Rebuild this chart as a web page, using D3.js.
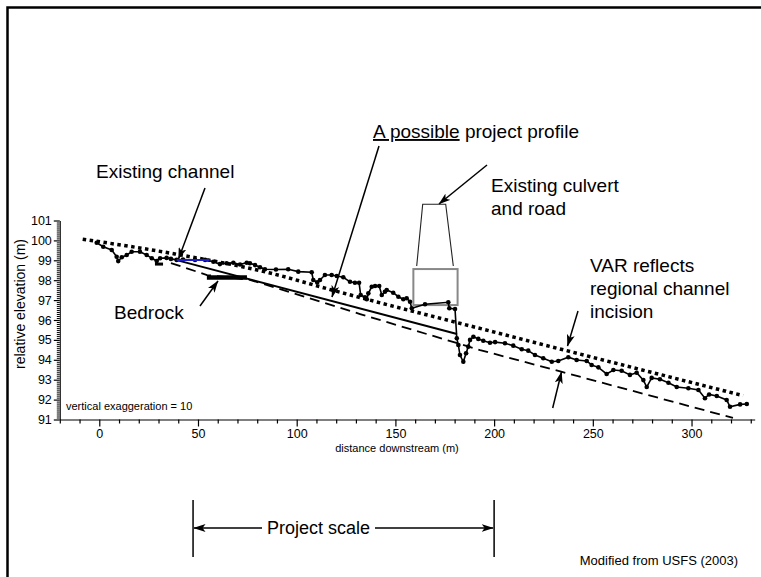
<!DOCTYPE html>
<html><head><meta charset="utf-8">
<script src="https://cdn.jsdelivr.net/npm/d3@7"></script>
<style>
html,body{margin:0;padding:0;background:#fff;}
svg{display:block;font-family:Arial,"Liberation Sans",sans-serif;}
</style></head>
<body>
<svg id="c" width="761" height="577"></svg>
<script>
// ---- data (distance downstream m, relative elevation m) ----
const profileDist = [-1.3,2.0,6.3,8.8,9.6,11.4,13.9,16.4,20.6,24.0,26.6,29.1,30.8,34.1,36.3,39.2,42.4,48.5,53.6,57.8,61.1,64.5,67.9,71.3,74.7,76.3,78.9,81.4,83.9,89.5,95.7,100.8,107.6,108.4,110.4,111.8,114.3,117.7,120.3,123.6,127.0,129.5,131.6,132.4,134.6,135.5,136.3,138.0,139.7,141.8,143.1,144.7,145.6,148.9,151.5,154.0,155.7,157.4,158.3,165.0,176.8,177.3,180.2,181.1,181.9,182.7,184.4,185.8,186.9,187.8,189.5,192.0,194.5,197.9,200.5,205.5,209.7,214.0,217.3,220.7,224.9,229.2,232.5,237.6,241.8,246.9,249.4,252.8,257.0,260.4,264.6,268.8,272.2,275.6,277.3,279.8,284.0,288.3,292.5,298.4,303.5,306.8,308.9,312.8,317.8,319.5,324.6,328.0];
const profileElev = [99.88,99.68,99.52,99.18,98.96,99.15,99.27,99.43,99.43,99.27,99.10,98.96,99.10,99.12,99.07,99.02,99.04,99.02,99.02,98.93,98.81,98.85,98.88,98.79,98.88,98.85,98.76,98.65,98.55,98.54,98.55,98.43,98.40,98.01,97.89,98.01,98.26,98.26,98.21,98.15,97.92,97.87,97.87,97.26,97.14,97.04,97.34,97.67,97.71,97.71,97.26,97.42,97.51,97.37,97.17,97.04,97.09,96.92,96.59,96.79,96.89,96.59,96.55,95.08,94.74,94.24,93.90,94.33,94.66,95.00,95.16,95.05,94.96,94.86,94.89,94.83,94.71,94.53,94.46,94.24,94.08,93.90,93.94,94.13,93.99,93.94,93.74,93.62,93.29,93.49,93.45,93.24,93.35,92.98,92.63,93.09,93.02,92.85,92.63,92.57,92.48,92.07,92.26,92.18,91.98,91.64,91.76,91.78];

// upper VAR (dotted)
const varUpperDist = [-8.4,38.3,86.5,117.7,202.9,326.1];
const varUpperElev = [100.06,99.32,98.36,97.51,95.32,92.20];
// lower VAR (dashed)
const varLowerDist = [36.3,54.6,76.3,132.1,192.9,234.4,321.0];
const varLowerElev = [98.86,98.26,98.02,96.30,94.49,93.39,91.08];
// possible project profile
const projectDist = [39.2,181.2];
const projectElev = [99.01,95.30];
// existing channel segment (blue)
const channelDist = [39.2,55.9];
const channelElev = [99.01,99.01];
// bedrock outcrops
const bedrockDist = [[28.2,32.3],[54.5,74.8]];
const bedrockElev = [98.81,98.14];
// culvert box
const culvertDist = [159.1,181.5];
const culvertElev = [96.75,98.56];
// project scale extent
const projectScale = [47.5,200];

// ticks
const xMajorTicks = [0,50,100,150,200,250,300];
const yMajorTicks = [91,92,93,94,95,96,97,98,99,100,101];

// ---- drawing ----
const svg = d3.select("#c");
const x = d3.scaleLinear().domain([-20,332]).range([59.8,754.7]);
const y = d3.scaleLinear().domain([91,101]).range([419.5,220.5]);

const defs = svg.append("defs");
defs.append("marker").attr("id","ah").attr("viewBox","0 0 12 8")
  .attr("refX",11.5).attr("refY",4).attr("markerWidth",12).attr("markerHeight",8)
  .attr("markerUnits","userSpaceOnUse").attr("orient","auto")
  .append("path").attr("d","M0,0 L12,4 L0,8 L3,4 Z").attr("fill","#000");

// frame
svg.append("path").attr("d","M7.5,577 V7.5 H761").attr("fill","none").attr("stroke","#000").attr("stroke-width",2.5);

// axes
const xMinor = d3.range(-20,331,10).filter(v=>!xMajorTicks.includes(v));
svg.append("g").attr("transform","translate(0,419.5)")
  .call(d3.axisBottom(x).tickValues(xMinor).tickSize(4).tickSizeOuter(0).tickFormat(""))
  .call(g=>g.selectAll("line,path").attr("stroke","#000").attr("stroke-width",1.2));
svg.append("g").attr("transform","translate(0,419.5)")
  .call(d3.axisBottom(x).tickValues(xMajorTicks).tickSize(7).tickSizeOuter(0).tickPadding(3))
  .call(g=>g.select(".domain").remove())
  .call(g=>g.selectAll("line").attr("stroke","#000").attr("stroke-width",1.2))
  .call(g=>g.selectAll("text").attr("font-size",12.5).attr("font-family","Arial, Liberation Sans").attr("fill","#000"));

const yMinor = d3.range(910,1011,1).map(v=>v/10).filter(v=>Math.abs(v-Math.round(v))>1e-6);
svg.append("g").attr("transform","translate(59.8,0)")
  .call(d3.axisLeft(y).tickValues(yMinor).tickSize(3).tickSizeOuter(0).tickFormat(""))
  .call(g=>g.selectAll("line,path").attr("stroke","#000").attr("stroke-width",1));
svg.append("g").attr("transform","translate(59.8,0)")
  .call(d3.axisLeft(y).tickValues(yMajorTicks).tickSize(6).tickSizeOuter(0).tickPadding(2))
  .call(g=>g.select(".domain").remove())
  .call(g=>g.selectAll("line").attr("stroke","#000").attr("stroke-width",1.2))
  .call(g=>g.selectAll("text").attr("font-size",12.5).attr("font-family","Arial, Liberation Sans").attr("fill","#000"));

svg.append("text").attr("x",397).attr("y",452).attr("text-anchor","middle")
  .attr("font-size",11).text("distance downstream (m)");
svg.append("text").attr("transform","translate(25,304) rotate(-90)").attr("text-anchor","middle")
  .attr("font-size",14).text("relative elevation (m)");
svg.append("text").attr("x",66).attr("y",410).attr("font-size",11).text("vertical exaggeration = 10");

const line = d3.line().x(d=>x(d[0])).y(d=>y(d[1]));
const zip = (a,b)=>a.map((v,i)=>[v,b[i]]);

// VAR lines
svg.append("path").datum(zip(varLowerDist,varLowerElev)).attr("d",line)
  .attr("fill","none").attr("stroke","#000").attr("stroke-width",1.8).attr("stroke-dasharray","10,6");
svg.append("path").datum(zip(varUpperDist,varUpperElev)).attr("d",d3.line().x(d=>x(d[0])).y(d=>y(d[1])).curve(d3.curveMonotoneX))
  .attr("fill","none").attr("stroke","#000").attr("stroke-width",3.5).attr("stroke-dasharray","3.5,3.5");

// project profile
svg.append("path").datum(zip(projectDist,projectElev)).attr("d",line)
  .attr("fill","none").attr("stroke","#000").attr("stroke-width",2);

// bedrock
bedrockDist.forEach((r,i)=>{
  svg.append("line").attr("x1",x(r[0])).attr("x2",x(r[1])).attr("y1",y(bedrockElev[i])).attr("y2",y(bedrockElev[i]))
    .attr("stroke","#000").attr("stroke-width",i===0?3:4.5);
});

// culvert box
svg.append("rect").attr("x",x(culvertDist[0])).attr("y",y(culvertElev[1]))
  .attr("width",x(culvertDist[1])-x(culvertDist[0])).attr("height",y(culvertElev[0])-y(culvertElev[1]))
  .attr("fill","none").attr("stroke","#888").attr("stroke-width",2);

// profile
const prof = zip(profileDist,profileElev);
svg.append("path").datum(prof).attr("d",line).attr("fill","none").attr("stroke","#000").attr("stroke-width",1.6);
svg.append("g").selectAll("circle").data(prof).join("circle")
  .attr("cx",d=>x(d[0])).attr("cy",d=>y(d[1])).attr("r",2.3).attr("fill","#000");

// existing channel (blue)
svg.append("path").datum(zip(channelDist,channelElev)).attr("d",line)
  .attr("fill","none").attr("stroke","#1c1cd0").attr("stroke-width",2);

// annotations
const T = (tx,xx,yy,fs)=>svg.append("text").attr("x",xx).attr("y",yy).attr("font-size",fs||19).text(tx);
const A = (x1,y1,x2,y2)=>svg.append("line").attr("x1",x1).attr("y1",y1).attr("x2",x2).attr("y2",y2)
  .attr("stroke","#000").attr("stroke-width",1.5).attr("marker-end","url(#ah)");

T("Existing channel",96,178);
A(205,188,178.5,259);

const ap = svg.append("text").attr("x",373).attr("y",138).attr("font-size",19);
ap.append("tspan").attr("text-decoration","underline").text("A possible");
ap.append("tspan").text(" project profile");
A(379,146,332,297);

T("Existing culvert",491,192);
T("and road",491,215);
A(487,165,439,204);
svg.append("path").attr("d","M416.7,266 L422.7,204.3 L445.7,204.3 L453.3,266")
  .attr("fill","none").attr("stroke","#222").attr("stroke-width",1.1);

T("Bedrock",114,319);
A(200,306,218,281);

T("VAR reflects",590,272);
T("regional channel",590,295);
T("incision",590,318);
A(578,311,567.5,346);
A(552.7,408,561.5,372);

// project scale
const py = 528;
[0,1].forEach(i=>{
  svg.append("line").attr("x1",x(projectScale[i])).attr("x2",x(projectScale[i])).attr("y1",500).attr("y2",557)
    .attr("stroke","#000").attr("stroke-width",1.5);
});
svg.append("text").attr("x",318.5).attr("y",534).attr("text-anchor","middle").attr("font-size",18).text("Project scale");
A(262,py,x(projectScale[0])+1,py);
A(375,py,x(projectScale[1])-1,py);

svg.append("text").attr("x",738).attr("y",565).attr("text-anchor","end").attr("font-size",13).text("Modified from USFS (2003)");
</script>
</body></html>
